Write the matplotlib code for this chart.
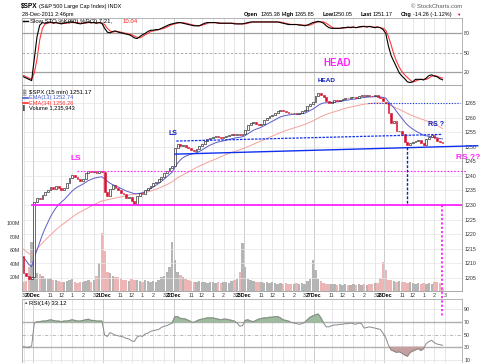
import matplotlib
matplotlib.use('Agg')
import matplotlib.pyplot as plt
from matplotlib.lines import Line2D
import numpy as np

plt.rcParams['font.family'] = ['Liberation Sans', 'DejaVu Sans']

W, H = 480, 363
fig = plt.figure(figsize=(W / 100, H / 100), dpi=100)

# ---------------- data ----------------
day_labels = ['20Dec', '21Dec', '22Dec', '23Dec', '27Dec', '28Dec']
hour_labels = ['11', '12', '1', '2', '3']
hour_offsets = [6, 10, 14, 18, 22]
first_day_bar = 4
bars_per_day = 26

closes = [
    1206.5, 1205.5, 1204.5, 1205.3,
    1231.0, 1232.5, 1232.0, 1233.5, 1234.5, 1235.0, 1236.2, 1235.5, 1236.5, 1236.0, 1235.2, 1236.0, 1237.5, 1239.3, 1240.3, 1239.5, 1238.8, 1238.2, 1239.0, 1241.0, 1241.8, 1241.2, 1241.8, 1241.0, 1241.6, 1241.3,
    1234.5, 1233.0, 1235.5, 1236.8, 1235.8, 1235.0, 1234.0, 1233.8, 1232.5, 1232.8, 1231.5, 1230.5, 1233.0, 1234.2, 1233.8, 1235.0, 1236.0, 1236.5, 1237.5, 1238.0, 1239.0, 1239.8, 1241.0, 1241.8, 1242.8, 1243.5,
    1249.5, 1251.0, 1250.3, 1250.8, 1250.0, 1249.5, 1248.8, 1248.5, 1249.3, 1250.2, 1251.0, 1252.0, 1252.8, 1253.0, 1253.4, 1253.8, 1253.3, 1253.0, 1253.5, 1253.6, 1254.0, 1254.3, 1254.0, 1254.4, 1254.0, 1254.5,
    1255.8, 1257.5, 1258.3, 1258.6, 1257.8, 1257.5, 1258.0, 1259.2, 1260.0, 1260.5, 1261.0, 1261.5, 1262.5, 1262.8, 1262.3, 1262.0, 1261.8, 1261.5, 1261.8, 1261.3, 1261.8, 1262.2, 1262.8, 1264.0, 1264.8, 1265.3,
    1267.5, 1268.6, 1268.0, 1267.2, 1265.8, 1265.2, 1265.6, 1266.0, 1265.8, 1266.2, 1266.6, 1266.9, 1266.7, 1267.0, 1267.2, 1266.9, 1267.6, 1267.9, 1267.5, 1267.8, 1267.6, 1267.4, 1267.7, 1267.3, 1266.8, 1265.8,
    1265.2, 1261.7, 1258.2, 1258.8, 1255.3, 1255.5, 1254.6, 1251.8, 1250.6, 1251.3, 1251.6, 1252.0, 1252.4, 1251.2, 1250.7, 1252.8, 1253.5, 1254.0, 1252.9, 1252.0, 1251.6, 1251.17,
]

opens = [
    1212.5, 1206.5, 1205.5, 1204.5,
    1205.3, 1231.0, 1232.5, 1232.0, 1233.5, 1234.5, 1235.0, 1236.2, 1235.5, 1236.5, 1236.0, 1235.2, 1236.0, 1237.5, 1239.3, 1240.3, 1239.5, 1238.8, 1238.2, 1239.0, 1241.0, 1241.8, 1241.2, 1241.8, 1241.0, 1241.6,
    1241.3, 1234.5, 1233.0, 1235.5, 1236.8, 1235.8, 1235.0, 1234.0, 1233.8, 1232.5, 1232.8, 1231.5, 1230.5, 1233.0, 1234.2, 1233.8, 1235.0, 1236.0, 1236.5, 1237.5, 1238.0, 1239.0, 1239.8, 1241.0, 1241.8, 1242.8,
    1243.5, 1249.5, 1251.0, 1250.3, 1250.8, 1250.0, 1249.5, 1248.8, 1248.5, 1249.3, 1250.2, 1251.0, 1252.0, 1252.8, 1253.0, 1253.4, 1253.8, 1253.3, 1253.0, 1253.5, 1253.6, 1254.0, 1254.3, 1254.0, 1254.4, 1254.0,
    1254.5, 1255.8, 1257.5, 1258.3, 1258.6, 1257.8, 1257.5, 1258.0, 1259.2, 1260.0, 1260.5, 1261.0, 1261.5, 1262.5, 1262.8, 1262.3, 1262.0, 1261.8, 1261.5, 1261.8, 1261.3, 1261.8, 1262.2, 1262.8, 1264.0, 1264.8,
    1265.3, 1267.5, 1268.6, 1268.0, 1267.2, 1265.8, 1265.2, 1265.6, 1266.0, 1265.8, 1266.2, 1266.6, 1266.9, 1266.7, 1267.0, 1267.2, 1266.9, 1267.6, 1267.9, 1267.5, 1267.8, 1267.6, 1267.4, 1267.7, 1267.3, 1266.8,
    1265.4, 1265.2, 1261.7, 1258.2, 1258.8, 1255.3, 1255.5, 1254.6, 1251.8, 1250.6, 1251.3, 1251.6, 1252.0, 1252.4, 1251.2, 1250.7, 1252.8, 1253.5, 1254.0, 1252.9, 1252.0, 1251.6,
]

volume_m = [
    14, 15, 36, 72,
    60, 27, 25, 22, 19, 18, 19, 17, 16, 15, 14, 13, 15, 17, 18, 13, 12, 13, 14, 15, 16, 14, 16, 22, 41, 86,
    59, 28, 26, 22, 21, 20, 19, 17, 16, 15, 18, 17, 16, 15, 14, 16, 15, 14, 15, 14, 16, 21, 22, 28, 36, 73,
    46, 28, 24, 20, 18, 17, 15, 14, 13, 15, 14, 13, 12, 14, 13, 12, 13, 12, 14, 13, 12, 15, 16, 18, 28, 71,
    36, 18, 17, 15, 14, 13, 14, 12, 13, 12, 13, 12, 11, 12, 11, 12, 11, 10, 11, 12, 11, 12, 11, 15, 18, 46,
    31, 18, 15, 12, 11, 10, 11, 10, 9, 10, 9, 10, 9, 9, 10, 9, 10, 9, 10, 9, 10, 10, 12, 12, 19, 43,
    31, 17, 16, 15, 14, 15, 13, 14, 12, 13, 12, 11, 12, 11, 12, 11, 12, 11, 14, 13, 12, 3,
]

ema13 = [
    1212.0, 1210.8, 1209.5, 1208.7,
    1212.0, 1214.5, 1217.2, 1219.8, 1222.0, 1224.0, 1226.0, 1227.6, 1229.0, 1230.2, 1231.0, 1231.8, 1232.8, 1233.8, 1234.8, 1235.6, 1236.2, 1236.7, 1237.2, 1237.8, 1238.4, 1238.8, 1239.2, 1239.4, 1239.6, 1239.7,
    1239.0, 1238.2, 1237.5, 1237.0, 1236.6, 1236.2, 1235.7, 1235.3, 1234.8, 1234.5, 1234.2, 1233.9, 1233.9, 1234.0, 1234.2, 1234.6, 1235.1, 1235.6, 1236.2, 1236.8, 1237.4, 1238.1, 1238.9, 1239.7, 1240.5, 1241.3,
    1243.0, 1244.4, 1245.5, 1246.3, 1246.8, 1247.2, 1247.5, 1247.7, 1248.0, 1248.4, 1248.9, 1249.5, 1250.1, 1250.6, 1251.0, 1251.4, 1251.7, 1251.9, 1252.1, 1252.3, 1252.6, 1252.8, 1253.0, 1253.2, 1253.3, 1253.5,
    1253.9, 1254.5, 1255.1, 1255.7, 1256.1, 1256.4, 1256.8, 1257.3, 1257.8, 1258.3, 1258.8, 1259.3, 1259.8, 1260.3, 1260.6, 1260.8, 1261.0, 1261.1, 1261.2, 1261.2, 1261.3, 1261.4, 1261.6, 1262.0, 1262.5, 1263.0,
    1263.6, 1264.3, 1264.8, 1265.1, 1265.2, 1265.2, 1265.3, 1265.4, 1265.5, 1265.6, 1265.8, 1266.0, 1266.1, 1266.3, 1266.4, 1266.5, 1266.7, 1266.9, 1267.0, 1267.1, 1267.2, 1267.2, 1267.3, 1267.3, 1267.2, 1267.0,
    1266.8, 1265.5, 1264.5, 1263.5, 1262.2, 1261.0, 1259.8, 1258.6, 1257.6, 1256.8, 1256.1, 1255.5, 1255.0, 1254.5, 1254.0, 1253.8, 1253.6, 1253.5, 1253.3, 1253.1, 1252.9, 1252.74,
]

ema34 = [
    1214.8, 1214.0, 1213.3, 1212.8,
    1213.8, 1214.9, 1215.9, 1216.9, 1217.9, 1218.8, 1219.7, 1220.6, 1221.5, 1222.3, 1223.0, 1223.7, 1224.4, 1225.1, 1225.8, 1226.5, 1227.1, 1227.6, 1228.1, 1228.6, 1229.1, 1229.6, 1230.1, 1230.5, 1231.0, 1231.4,
    1231.6, 1231.8, 1232.0, 1232.2, 1232.4, 1232.6, 1232.8, 1233.0, 1233.2, 1233.4, 1233.6, 1233.7, 1233.8, 1233.9, 1234.1, 1234.3, 1234.5, 1234.8, 1235.1, 1235.4, 1235.8, 1236.2, 1236.6, 1237.0, 1237.5, 1238.0,
    1238.7, 1239.3, 1239.9, 1240.4, 1240.9, 1241.4, 1241.9, 1242.4, 1242.9, 1243.4, 1243.8, 1244.2, 1244.6, 1245.0, 1245.4, 1245.8, 1246.2, 1246.6, 1247.0, 1247.4, 1247.8, 1248.1, 1248.4, 1248.7, 1249.0, 1249.3,
    1249.7, 1250.1, 1250.5, 1250.9, 1251.3, 1251.7, 1252.1, 1252.5, 1252.9, 1253.3, 1253.7, 1254.1, 1254.5, 1254.9, 1255.3, 1255.6, 1255.9, 1256.2, 1256.5, 1256.8, 1257.1, 1257.4, 1257.7, 1258.1, 1258.5, 1258.9,
    1259.4, 1259.9, 1260.4, 1260.8, 1261.2, 1261.5, 1261.8, 1262.1, 1262.4, 1262.7, 1263.0, 1263.3, 1263.5, 1263.7, 1263.9, 1264.1, 1264.3, 1264.5, 1264.7, 1264.8, 1264.9, 1265.0, 1265.1, 1265.1, 1265.1, 1265.0,
    1264.9, 1264.6, 1264.2, 1263.8, 1263.3, 1262.9, 1262.5, 1262.0, 1261.5, 1261.1, 1260.7, 1260.3, 1260.0, 1259.6, 1259.3, 1259.0, 1258.6, 1258.2, 1257.8, 1257.4, 1256.9, 1256.26,
]

sto_k = [
    12, 10, 8, 6,
    40, 75, 93, 97, 96, 97, 98, 96, 97, 96, 95, 96, 97, 98, 98, 97, 96, 95, 96, 97, 98, 97, 97, 96, 97, 96,
    88, 82, 81, 83, 84, 82, 81, 80, 79, 78, 76, 73, 72, 75, 78, 80, 83, 85, 85, 86, 86, 88, 90, 92, 94, 95,
    96, 97, 97, 96, 95, 94, 93, 92, 92, 92, 94, 96, 97, 97, 97, 97, 96, 96, 96, 96, 96, 96, 95, 95, 95, 95,
    96, 97, 98, 98, 98, 98, 98, 98, 98, 98, 98, 98, 98, 97, 96, 95, 94, 94, 94, 94, 93, 93, 92, 93, 95, 97,
    98, 99, 98, 96, 92, 89, 88, 88, 88, 88, 89, 89, 90, 89, 90, 89, 90, 91, 91, 90, 91, 90, 89, 90, 89, 86,
    80, 60, 45, 36, 27, 18, 13, 9, 4, 3, 4, 8, 8, 8, 7, 10, 14, 15, 13, 12, 9, 7.21,
]

sto_d = [
    14, 12, 10, 8,
    18, 40, 70, 88, 95, 96, 97, 97, 97, 96, 96, 96, 96, 97, 97, 97, 97, 96, 96, 96, 97, 97, 97, 97, 97, 96,
    94, 88, 84, 82, 83, 83, 82, 81, 80, 79, 78, 76, 74, 73, 75, 78, 80, 83, 84, 85, 86, 87, 88, 90, 92, 94,
    95, 96, 97, 97, 96, 95, 94, 93, 92, 92, 93, 94, 96, 97, 97, 97, 97, 96, 96, 96, 96, 96, 96, 95, 95, 95,
    95, 96, 97, 98, 98, 98, 98, 98, 98, 98, 98, 98, 98, 98, 97, 96, 95, 94, 94, 94, 94, 93, 93, 93, 93, 95,
    97, 98, 98, 98, 96, 93, 90, 88, 88, 88, 88, 89, 89, 90, 90, 89, 90, 90, 91, 91, 91, 90, 90, 90, 89, 88,
    85, 75, 62, 47, 36, 27, 20, 15, 11, 7, 4, 5, 7, 8, 8, 8, 10, 13, 14, 13, 11, 10.04,
]

rsi = [
    31, 30, 30, 32,
    68, 70, 70, 71, 71, 72, 73, 72, 71, 71, 70, 71, 71, 72, 73, 72, 71, 71, 72, 73, 74, 72, 72, 71, 71, 71,
    49, 47, 53, 51, 49, 48, 47, 46, 44, 43, 40, 39, 46, 48, 47, 51, 52, 55, 56, 57, 58, 61, 63, 64, 66, 68,
    78, 78, 75, 75, 74, 72, 70, 69, 71, 73, 74, 75, 76, 76, 76, 75, 74, 73, 74, 74, 73, 72, 71, 68, 63, 64,
    72, 73, 71, 70, 72, 74, 75, 76, 76, 77, 77, 78, 78, 76, 73, 72, 71, 69, 68, 67, 66, 67, 69, 73, 77, 79,
    81, 82, 76, 68, 62, 62, 64, 65, 65, 66, 66, 67, 67, 68, 67, 66, 68, 67, 60, 61, 62, 61, 60, 59, 58, 52,
    45, 33, 26, 24, 22, 23, 21, 18, 16, 22, 24, 26, 28, 25, 28, 36, 39, 41, 37, 35, 34, 33.12,
]

# annotation levels (price) and bar positions
support_level = 1230.0
ls_level = 1241.8
head_level = 1265.0
neck_x = [56, 168]
neck_y = [1247.5, 1250.4]
dash_neck_x = [56.5, 155]
dash_neck_y = [1252.0, 1254.3]

# ---------------- layout ----------------
def X(px):
    return px / W

def Y(py):
    return 1 - py / H

L, R = 21.7, 462.0
XLIM = (-0.67, 162.2)
ax_sto = fig.add_axes([X(L), Y(85), (R - L) / W, (85 - 17.5) / H])
ax_vol = fig.add_axes([X(L), Y(291), (R - L) / W, (291 - 85) / H])
ax_px = ax_vol.twinx()
ax_rsi = fig.add_axes([X(L), Y(363), (R - L) / W, (363 - 299) / H])
ax_sto.set_zorder(1)
ax_rsi.set_zorder(1)
ax_vol.set_zorder(2)
ax_px.set_zorder(3)
ax_px.patch.set_visible(False)

idx = np.arange(len(closes))
o = np.array(opens)
c = np.array(closes)

# tick positions
tick_pos = [0]
tick_lab = ['3']
day_pos = []
for d, lab in enumerate(day_labels):
    op = first_day_bar + bars_per_day * d
    tick_pos.append(op - 0.5)
    tick_lab.append(lab)
    day_pos.append(op - 0.5)
    for h, off in zip(hour_labels, hour_offsets):
        tick_pos.append(op + off)
        tick_lab.append(h)

spine_col = '#a8a8a8'
tick_font = 3.8
for ax in (ax_sto, ax_vol, ax_px, ax_rsi):
    ax.set_xlim(*XLIM)
    for s in ax.spines.values():
        s.set_color(spine_col)
        s.set_linewidth(0.6)
    ax.tick_params(length=0, pad=1.5, labelsize=tick_font, colors='#333333')

for ax in (ax_sto, ax_vol, ax_rsi):
    for p in tick_pos:
        col = '#c4c4c4' if p in day_pos else '#e2e2e2'
        ax.axvline(p, color=col, lw=0.6, zorder=0)

# ---- STO panel ----
ax_sto.set_ylim(-0.9, 105)
ax_sto.axhline(80, color='#a0a0a0', lw=0.9, zorder=1)
ax_sto.axhline(20, color='#a0a0a0', lw=0.9, zorder=1)
ax_sto.axhline(50, color='#a0a0a0', lw=0.6, ls=(0, (3, 2)), zorder=1)
ax_sto.plot(idx, sto_d, color='#ff3a3a', lw=0.8, zorder=3)
ax_sto.plot(idx, sto_k, color='black', lw=0.8, zorder=4)
ax_sto.set_xticks([])
ax_sto.yaxis.tick_right()
ax_sto.set_yticks([20, 50, 80])

# ---- Volume ----
vol_cols = ['#b5b5b5' if cc >= oo else '#ecb6b6' for oo, cc in zip(opens, closes)]
ax_vol.bar(idx, volume_m, width=0.9, color=vol_cols, zorder=1)
ax_vol.set_ylim(0, 305)
ax_vol.set_yticks([20, 40, 60, 80, 100])
ax_vol.set_yticklabels(['20M', '40M', '60M', '80M', '100M'])
ax_vol.set_xticks(tick_pos)
ax_vol.set_xticklabels(tick_lab)
for tl, lab in zip(ax_vol.get_xticklabels(), tick_lab):
    if lab in day_labels:
        tl.set_fontweight('bold')
        tl.set_color('black')

# ---- Price ----
ax_px.set_ylim(1200.4, 1271.3)
ax_px.set_yticks(list(range(1205, 1270, 5)))
for lv in range(1205, 1270, 5):
    ax_px.axhline(lv, color='#e6e6e6', lw=0.5, zorder=0)
ax_px.plot(idx, ema34, color='#f4a29c', lw=0.7, zorder=2)
ax_px.plot(idx, ema13, color='#5c5cc8', lw=0.7, zorder=2)
up = c >= o
body_bot = np.minimum(o, c)
body_h = np.maximum(np.abs(c - o), 0.25)
ax_px.bar(idx[up], body_h[up], bottom=body_bot[up], width=0.68,
          color='white', edgecolor='black', linewidth=0.4, zorder=4)
ax_px.bar(idx[~up], body_h[~up], bottom=body_bot[~up], width=0.68,
          color='#d8102e', edgecolor='#d8102e', linewidth=0.4, zorder=4)

# annotations
mag = '#ff22ff'
blu = '#1030f0'
ax_px.plot([3.1, XLIM[1]], [support_level] * 2, color=mag, lw=1.3, zorder=5)
ax_px.plot([19.8, 164], [ls_level] * 2, color=mag, lw=0.8, ls=(0, (1.5, 1.5)),
           zorder=5, clip_on=False)
ax_px.plot(neck_x, neck_y, color=blu, lw=1.0, zorder=5, clip_on=False)
ax_px.plot(dash_neck_x, dash_neck_y, color=blu, lw=0.9, ls=(0, (2, 1)), zorder=5)
ax_px.plot([127.4, 161.5], [head_level] * 2, color=blu, lw=0.8, ls=(0, (1, 1.5)), zorder=5)
ax_px.plot([141.8, 141.8], [neck_y[0] + 2.6, support_level], color='#1020c0',
           lw=1.0, ls=(0, (2, 1.2)), zorder=5)
ax_px.plot([154.8, 154.8], [support_level, 1191.5], color=mag, lw=1.3,
           ls=(0, (1.2, 1.2)), zorder=6, clip_on=False)

# ---- RSI ----
r = np.array(rsi, dtype=float)
ax_rsi.set_ylim(5.3, 105.7)
ax_rsi.axhline(70, color='#b0b0b0', lw=1.0, zorder=1)
ax_rsi.axhline(30, color='#b0b0b0', lw=1.0, zorder=1)
ax_rsi.axhline(50, color='#b0b0b0', lw=0.6, ls=(0, (4, 2, 1, 2)), zorder=1)
ax_rsi.axhline(90, color='#e2e2e2', lw=0.5, zorder=0)
ax_rsi.axhline(10, color='#e2e2e2', lw=0.5, zorder=0)
ax_rsi.fill_between(idx, r, 70, where=r >= 70, interpolate=True, color='#9dbb9d', zorder=2)
ax_rsi.fill_between(idx, r, 30, where=r <= 30, interpolate=True, color='#c6a0a0', zorder=2)
ax_rsi.plot(idx, r, color='#8a8a8a', lw=0.7, zorder=3)
ax_rsi.set_xticks([])
ax_rsi.yaxis.tick_right()
ax_rsi.set_yticks([10, 30, 50, 70, 90])

# ---------------- texts ----------------
def t(px, py, s, size=4.0, color='black', weight='normal', ha='left'):
    fig.text(X(px), Y(py), s, fontsize=size, color=color, fontweight=weight,
             ha=ha, va='center', zorder=30)

def seg(x0, x1, py, color, lw=1.0):
    fig.add_artist(Line2D([X(x0), X(x1)], [Y(py), Y(py)], transform=fig.transFigure,
                          color=color, lw=lw, zorder=30))

t(21, 6.5, '$SPX', 4.7, weight='bold')
t(39, 6.8, '(S&P 500 Large Cap Index) INDX', 4.0)
t(22, 14.2, '28-Dec-2011 2:46pm', 4.0)
t(462, 6.5, '\u00a9 StockCharts.com', 4.2, color='#555555', ha='right')
for px, s, b in [(244, 'Open', True), (261, '1265.38', False), (282, 'High', True),
                 (295, '1265.85', False), (323, 'Low', True), (333, '1250.05', False),
                 (361, 'Last', True), (373, '1251.17', False), (401, 'Chg', True),
                 (413, '-14.26 (-1.12%)', False)]:
    t(px, 14.2, s, 4.0, weight='bold' if b else 'normal')
t(456, 14.5, '\u25bc', 3.2, color='#cc0033')

seg(23, 28, 21.3, 'black', 1.0)
t(30, 21.3, 'Slow STO %K(60) %D(3) 7.21,', 4.3)
t(123, 21.3, '10.04', 4.3, color='#ff2020')

t(23, 92.6, '\u2592', 3.6)
t(29, 92.6, '$SPX (15 min) 1251.17', 4.3)
seg(23, 28, 97.8, '#4a5ac8', 1.2)
t(29, 97.8, 'EMA(13) 1252.74', 4.1, color='#4a5ac8')
seg(23, 28, 103.0, '#ff3030', 1.2)
t(29, 103.0, 'EMA(34) 1256.26', 4.1, color='#ff3030')
t(23, 108.2, '\u258c', 3.6, color='#555555')
t(29, 108.2, 'Volume 1,235,943', 4.1)
t(23, 303.3, '\u25b2', 3.2, color='#555555')
t(29, 303.3, 'RSI(14) 33.12', 4.3)

t(337, 63, 'HEAD', 7.0, color=mag, weight='bold', ha='center')
t(327, 80.5, 'HEAD', 4.6, color='#1020c0', weight='bold', ha='center')
t(76, 159, 'LS', 6.0, color=mag, weight='bold', ha='center')
t(173, 134, 'LS', 5.0, color='#1020c0', weight='bold', ha='center')
t(436, 125, 'RS ?', 5.0, color='#1020c0', weight='bold', ha='center')
t(468, 157, 'RS ??', 6.0, color=mag, weight='bold', ha='center')

fig.savefig('out.png', dpi=100)
